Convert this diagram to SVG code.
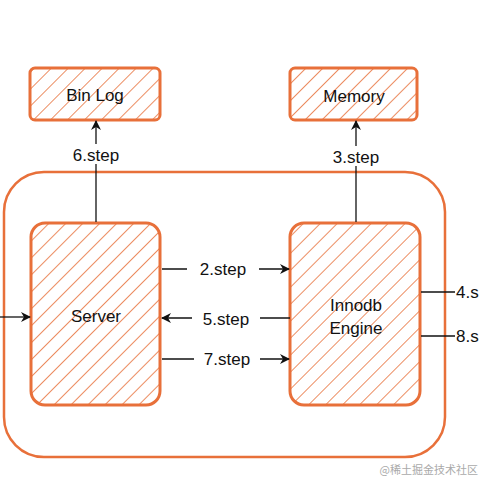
<svg xmlns="http://www.w3.org/2000/svg" width="480" height="480" viewBox="0 0 480 480">
<style>
.box{fill:url(#hatch);stroke:#e8703a;stroke-width:3}
.outer{fill:none;stroke:#e8703a;stroke-width:2.5}
.lbl{font-family:"Liberation Sans","DejaVu Sans",sans-serif;font-size:17px;fill:#111;text-anchor:middle}
.ln{stroke:#111;stroke-width:1.3;fill:none}
.bg{fill:#fff}
</style>
<defs>
<pattern id="hatch" width="12" height="12" patternUnits="userSpaceOnUse" patternTransform="rotate(45)">
<rect width="12" height="12" fill="#fff"/>
<line x1="0" y1="0" x2="0" y2="12" stroke="#e8703a" stroke-width="1.6"/>
</pattern>
<marker id="ah" viewBox="0 0 10 10" refX="9" refY="5" markerWidth="10" markerHeight="10" markerUnits="userSpaceOnUse" orient="auto">
<path d="M0,0 L10,5 L0,10 L3,5 Z" fill="#111"/>
</marker>
</defs>
<rect class="outer" x="4" y="172" width="441" height="285" rx="40"/>
<g id="binlog"><rect class="box" x="30" y="68" width="130" height="52" rx="5"/><text class="lbl" x="95" y="101">Bin Log</text></g>
<g id="memory"><rect class="box" x="290" y="68" width="127" height="52" rx="5"/><text class="lbl" x="354" y="102">Memory</text></g>
<g id="server"><rect class="box" x="31" y="223" width="129" height="182" rx="14"/><text class="lbl" x="96" y="322">Server</text></g>
<g id="innodb"><rect class="box" x="290" y="223" width="130" height="182" rx="14"/><text class="lbl" x="356" y="311">Innodb</text><text class="lbl" x="356" y="334">Engine</text></g>
<g id="connectors">
<line class="ln" x1="96" y1="222" x2="96" y2="121" marker-end="url(#ah)"/>
<rect class="bg" x="66" y="144" width="60" height="20"/><text class="lbl" x="96" y="161">6.step</text>
<line class="ln" x1="356" y1="222" x2="356" y2="121" marker-end="url(#ah)"/>
<rect class="bg" x="327" y="146" width="58" height="20"/><text class="lbl" x="356" y="163">3.step</text>
<line class="ln" x1="162" y1="269" x2="289" y2="269" marker-end="url(#ah)"/>
<rect class="bg" x="187" y="259" width="72" height="20"/><text class="lbl" x="223" y="275">2.step</text>
<line class="ln" x1="290" y1="318" x2="162" y2="318" marker-end="url(#ah)"/>
<rect class="bg" x="192" y="308" width="68" height="20"/><text class="lbl" x="226" y="325">5.step</text>
<line class="ln" x1="162" y1="359" x2="289" y2="359" marker-end="url(#ah)"/>
<rect class="bg" x="194" y="349" width="66" height="20"/><text class="lbl" x="227" y="365">7.step</text>
<line class="ln" x1="0" y1="317" x2="30" y2="317" marker-end="url(#ah)"/>
<line class="ln" x1="421" y1="292" x2="455" y2="292"/>
<text class="lbl" x="456" y="298" style="text-anchor:start">4.s</text>
<line class="ln" x1="421" y1="336" x2="455" y2="336"/>
<text class="lbl" x="456" y="342" style="text-anchor:start">8.s</text>
</g>
<text x="478" y="474" style="font-family:'Noto Sans CJK SC',sans-serif;font-size:11px;fill:#aaa;text-anchor:end">@稀土掘金技术社区</text>
</svg>
